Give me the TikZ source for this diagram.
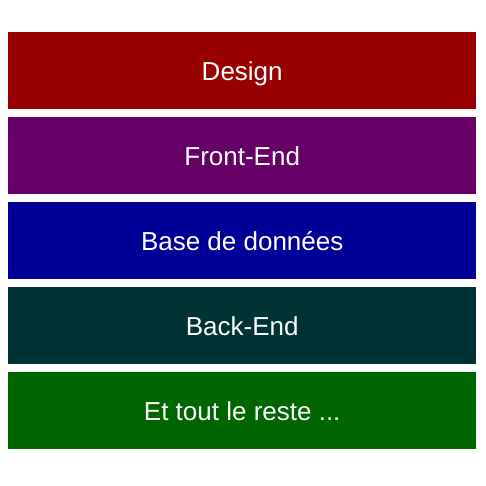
\documentclass[tikz,border=0pt]{standalone}
\usepackage{fontspec}
\setmainfont{Liberation Sans}
\definecolor{cDesign}{HTML}{990000}
\definecolor{cFront}{HTML}{660066}
\definecolor{cBase}{HTML}{000099}
\definecolor{cBack}{HTML}{003333}
\definecolor{cReste}{HTML}{006600}
\newcommand{\lowtxt}[1]{\raisebox{-9.5pt}[0pt][0pt]{#1}}
\begin{document}
\begin{tikzpicture}[x=1pt,y=-1pt,
  layer/.style={minimum width=468pt,minimum height=77pt,inner sep=0pt,text=white,
    font=\fontsize{26pt}{30pt}\selectfont,anchor=north west}]
\useasboundingbox[fill=white] (0,0) rectangle (486,486);
\node[layer,fill=cDesign] (design) at (8,32) {\lowtxt{Design}};
\node[layer,fill=cFront] (front) at (8,117) {\lowtxt{Front-End}};
\node[layer,fill=cBase] (base) at (8,202) {\lowtxt{Base de données}};
\node[layer,fill=cBack] (back) at (8,287) {\lowtxt{Back-End}};
\node[layer,fill=cReste] (reste) at (8,372) {\lowtxt{Et tout le reste ...}};
\end{tikzpicture}
\end{document}
